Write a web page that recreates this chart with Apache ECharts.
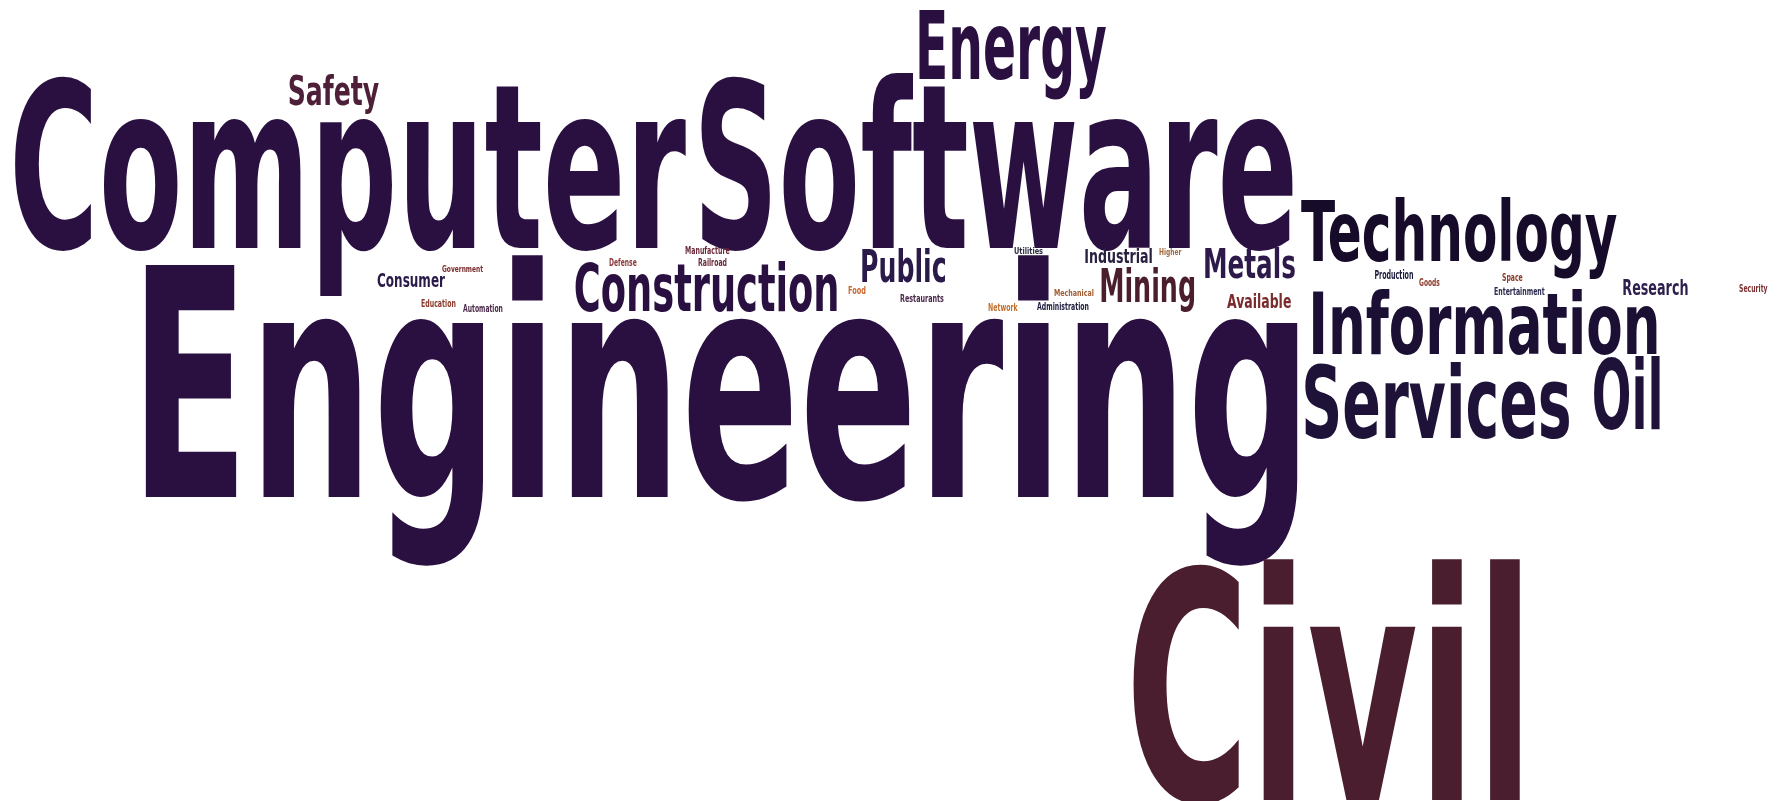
<!DOCTYPE html>
<html>
<head>
<meta charset="utf-8">
<script src="https://cdn.jsdelivr.net/npm/echarts@6/dist/echarts.min.js"></script>
<style>
html,body{margin:0;padding:0;background:#fff;}
#main{width:1779px;height:801px;}
</style>
</head>
<body>
<div id="main"></div>
<script>
// Words of the cloud and their relative weight (cap height of each word)
const words = ['Engineering','Computer','Software','Civil','Energy','Technology','Information','Services','Oil',
  'Construction','Public','Metals','Mining','Industrial','Research','Safety','Consumer','Available',
  'Government','Manufacture','Defense','Railroad','Education','Automation','Food','Restaurants','Network',
  'Administration','Mechanical','Utilities','Higher','Production','Goods','Space','Entertainment','Security'];
const weights = [237,170,171,236,69,62,64,74,71,
  49,33,31,34,15,16,31,15,14,
  7,8,8,8,8,8,8,8,8,
  8,7,7,7,9,8,8,8,8];

// Layout of the cloud (axis units = px of the original picture)
const posLeft  = [145,15,701,1131,919,1301,1313,1305,1594,
  575,862,1205,1101,1085,1623,289,377,1227,
  442,685,609,698,421,463,848,900,988,
  1037,1054,1014,1159,1375,1419,1502,1494,1739];
const posRight = [1299,686,1293,1520,1106,1617,1657,1569,1660,
  837,945,1295,1194,1152,1688,379,445,1291,
  483,730,637,727,456,503,866,944,1018,
  1089,1094,1043,1182,1413,1440,1523,1545,1768];
const posBase  = [497,248,248,800,79,261,354,438,429,
  311,282,278,302,263,295,105,287,308,
  272,254,266,266,307,312,294,302,311,
  310,296,254,255,279,286,281,295,292];
const wordColors = ['#2a1040','#2a1040','#2a1040','#4a1e2e','#2a1040','#160c2a','#1b0f33','#1f1238','#1f1238',
  '#2a1040','#2a1a4a','#2e1a4a','#4b1e2d','#2a2040','#2d1f4d','#4d1f38','#2a1a4a','#7a2b2b',
  '#7a2a2a','#6a2a3a','#8a3a3a','#6a2a3a','#8a3a2a','#4a2a4a','#c86a30','#4a2a4a','#c07030',
  '#202040','#a05a30','#2a2a40','#a06a40','#1a1a3a','#8a3a2a','#8a3a2a','#2a2a50','#7a3030'];

const FONT_FAMILY = '"DejaVu Sans Condensed"';
const FONT_WEIGHT = 'bold';
const mctx = document.createElement('canvas').getContext('2d');
function measure(text, size) {
  mctx.font = FONT_WEIGHT + ' ' + size + 'px ' + FONT_FAMILY;
  mctx.textBaseline = 'middle';
  return mctx.measureText(text);
}
const hM = measure('H', 100);
const capRatio = (hM.actualBoundingBoxAscent + hM.actualBoundingBoxDescent) / 100; // cap height / em
const baseRatio = hM.actualBoundingBoxDescent / 100; // baseline offset below middle / em

const data = words.map((w, i) => ({ name: w, value: [posLeft[i], posBase[i], weights[i], posRight[i]] }));

const chart = echarts.init(document.getElementById('main'), null, { renderer: 'canvas' });
chart.setOption({
  animation: false,
  backgroundColor: '#ffffff',
  grid: { left: 0, right: 0, top: 0, bottom: 0 },
  xAxis: { type: 'value', min: 0, max: 1779, show: false },
  yAxis: { type: 'value', min: 0, max: 801, inverse: true, show: false },
  series: [{
    type: 'custom',
    silent: true,
    data: data,
    renderItem: function (params, api) {
      const i = params.dataIndex;
      const text = words[i];
      const pL = api.coord([api.value(0), api.value(1)]);
      const pR = api.coord([api.value(3), api.value(1)]);
      const capH = api.size([0, api.value(2)])[1];
      const w100 = measure(text, 100);
      const inkRatio = Math.max(capRatio, (w100.actualBoundingBoxAscent + hM.actualBoundingBoxDescent) / 100);
      const fontSize = 0.5 * (capH / capRatio + capH / inkRatio);
      const m = measure(text, fontSize);
      const inkW = m.actualBoundingBoxLeft + m.actualBoundingBoxRight;
      const sx = (pR[0] - pL[0]) / inkW;
      const yMid = pL[1] - baseRatio * fontSize;
      return {
        type: 'text',
        x: pL[0] + sx * m.actualBoundingBoxLeft,
        y: yMid,
        scaleX: sx,
        style: {
          text: text,
          fill: wordColors[i],
          fontFamily: FONT_FAMILY,
          fontWeight: FONT_WEIGHT,
          fontSize: fontSize,
          textAlign: 'left',
          textVerticalAlign: 'middle'
        }
      };
    }
  }]
});
</script>
</body>
</html>
